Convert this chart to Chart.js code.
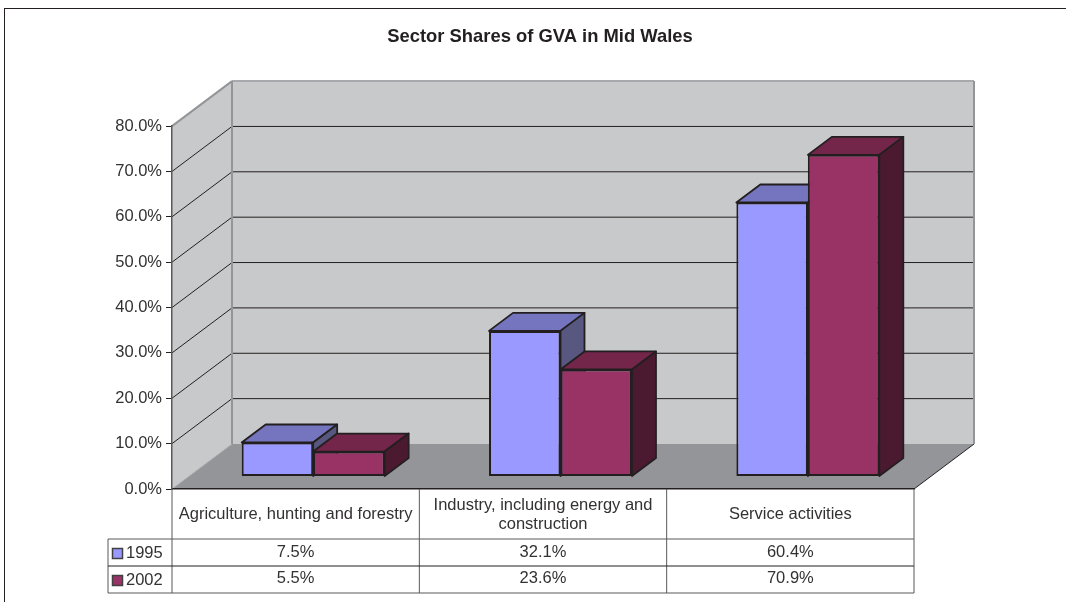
<!DOCTYPE html>
<html>
<head>
<meta charset="utf-8">
<title>Sector Shares of GVA in Mid Wales</title>
<script src="https://cdn.jsdelivr.net/npm/chart.js@4"></script>
<style>
  html, body { margin: 0; padding: 0; background: #fff; overflow: hidden; }
  #frame { position: absolute; left: 4px; top: 8px; width: 1062px; height: 594px; border-top: 1px solid #231f20; border-left: 1px solid #231f20; box-sizing: border-box; }
  canvas { display: block; position: absolute; left: 0; top: 0; }
</style>
</head>
<body>
<div id="frame"></div>
<canvas id="chart" width="1066" height="602"></canvas>
<script>
const categories = [
  'Agriculture, hunting and forestry',
  ['Industry, including energy and', 'construction'],
  'Service activities'
];
const values1995 = [7.5, 32.1, 60.4];
const values2002 = [5.5, 23.6, 70.9];
const seriesNames = ['1995', '2002'];

const font = '"Liberation Sans", Arial, sans-serif';
const ink = '#231f20';
const textInk = '#333132';

// decalage du mur du fond et des barres
const wallDepth = { x: 60, y: -45 };
const barPlane = { x: 17.5, y: -12.5 };
const barDepth = { x: 24, y: -18 };

const faces = [
  { top: '#7575bf', side: '#575780' },
  { top: '#732649', side: '#4c1a30' }
];

function poly(ctx, pts, fill, stroke, width) {
  ctx.beginPath();
  pts.forEach((p, i) => i ? ctx.lineTo(p[0], p[1]) : ctx.moveTo(p[0], p[1]));
  ctx.closePath();
  if (fill) { ctx.fillStyle = fill; ctx.fill(); }
  if (stroke) { ctx.strokeStyle = stroke; ctx.lineWidth = width; ctx.stroke(); }
}

function line(ctx, x1, y1, x2, y2, color, width) {
  ctx.beginPath();
  ctx.moveTo(x1, y1);
  ctx.lineTo(x2, y2);
  ctx.strokeStyle = color;
  ctx.lineWidth = width;
  ctx.stroke();
}

const walls3d = {
  id: 'walls3d',
  afterLayout(chart) {
    // le titre est centre sur le cadre, pas sur la zone du graphique
    chart.titleBlock.left = 0;
    chart.titleBlock.right = 1080;
  },
  beforeDraw(chart) {
    const { ctx, chartArea: a, scales: { y } } = chart;
    const dx = wallDepth.x, dy = wallDepth.y;
    ctx.save();
    // sol
    poly(ctx, [[a.left, a.bottom], [a.left + dx, a.bottom + dy], [a.right + dx, a.bottom + dy], [a.right, a.bottom]], '#949598');
    line(ctx, a.right, a.bottom, a.right + dx, a.bottom + dy, ink, 1);
    // mur gauche et mur du fond
    poly(ctx, [[a.left, a.top], [a.left + dx, a.top + dy], [a.left + dx, a.bottom + dy], [a.left, a.bottom]], '#c8c9cb');
    poly(ctx, [[a.left + dx, a.top + dy], [a.right + dx, a.top + dy], [a.right + dx, a.bottom + dy], [a.left + dx, a.bottom + dy]], '#c8c9cb');
    // lignes de grille
    y.ticks.forEach(t => {
      const py = y.getPixelForValue(t.value);
      const top = t.value === y.max;
      const c = top ? '#6d6e71' : ink;
      if (t.value > 0) {
        line(ctx, a.left + dx, py + dy, a.right + dx, py + dy, c, top ? 1.5 : 1);
        if (!top) line(ctx, a.left, py, a.left + dx, py + dy, ink, 1);
      }
    });
    // aretes
    line(ctx, a.left, a.top, a.left + dx, a.top + dy, '#939598', 2);
    line(ctx, a.left + dx, a.top + dy, a.right + dx, a.top + dy, '#a7a9ac', 2);
    line(ctx, a.left + dx, a.top + dy, a.left + dx, a.bottom + dy, '#939598', 2);
    line(ctx, a.right + dx, a.top + dy, a.right + dx, a.bottom + dy, '#939598', 2);
    line(ctx, a.left, a.bottom, a.left + dx, a.bottom + dy, '#a7a9ac', 1);
    ctx.restore();
  },
  beforeDatasetsDraw(chart) {
    // Chart.js dessine la derniere serie en premier : ici 2002 doit passer devant 1995
    const { ctx } = chart;
    const dx = barDepth.x, dy = barDepth.y;
    [0, 1].forEach(index => {
      const meta = chart.getDatasetMeta(index);
      ctx.save();
      ctx.translate(barPlane.x, barPlane.y);
      meta.data.forEach(bar => {
        const { x, y, base, width } = bar.getProps(['x', 'y', 'base', 'width'], true);
        const l = x - width / 2, r = x + width / 2;
        ctx.lineJoin = 'round';
        poly(ctx, [[l, y], [l + dx, y + dy], [r + dx, y + dy], [r, y]], faces[index].top, ink, 1.8);
        poly(ctx, [[r, y], [r + dx, y + dy], [r + dx, base + dy], [r, base]], faces[index].side, ink, 1.8);
      });
      meta.controller.draw();
      ctx.restore();
    });
    return false;
  }
};

const dataTable = {
  id: 'dataTable',
  afterDraw(chart) {
    const { ctx, chartArea: a, scales: { x } } = chart;
    const rowLines = [539, 566, 593];
    const valueY = [552, 578];
    const keyLeft = 108;
    const colW = (a.right - a.left) / categories.length;
    ctx.save();
    // colonnes
    for (let i = 0; i <= categories.length; i++) {
      const px = a.left + i * colW;
      line(ctx, px, a.bottom, px, rowLines[2], '#58595b', 1);
    }
    line(ctx, keyLeft, rowLines[0], keyLeft, rowLines[2], '#58595b', 1);
    // lignes
    line(ctx, keyLeft, rowLines[0], a.right, rowLines[0], '#58595b', 1);
    line(ctx, keyLeft, rowLines[1], a.right, rowLines[1], ink, 1);
    line(ctx, keyLeft, rowLines[2], a.right, rowLines[2], '#58595b', 1);

    ctx.font = '16.5px ' + font;
    ctx.textBaseline = 'middle';
    [values1995, values2002].forEach((vals, r) => {
      ctx.fillStyle = textInk;
      ctx.textAlign = 'center';
      vals.forEach((v, i) => ctx.fillText(v.toFixed(1) + '%', x.getPixelForValue(i), valueY[r]));
      // cle de legende
      const keyTop = rowLines[r] + 9.5;
      ctx.fillStyle = chart.data.datasets[r].backgroundColor;
      ctx.fillRect(112.5, keyTop, 10, 10);
      ctx.strokeStyle = '#414042';
      ctx.lineWidth = 1.5;
      ctx.strokeRect(112.5, keyTop, 10, 10);
      ctx.fillStyle = textInk;
      ctx.textAlign = 'left';
      ctx.fillText(seriesNames[r], 126, rowLines[r] + 14);
    });
    ctx.restore();
  }
};

new Chart(document.getElementById('chart'), {
  type: 'bar',
  data: {
    labels: categories,
    datasets: [
      { label: seriesNames[0], data: values1995, backgroundColor: '#9999ff' },
      { label: seriesNames[1], data: values2002, backgroundColor: '#993366' }
    ]
  },
  options: {
    responsive: false,
    animation: false,
    layout: { padding: { left: 0, right: 152, top: 26, bottom: 0 } },
    datasets: {
      bar: {
        barPercentage: 1,
        categoryPercentage: 0.578,
        borderColor: ink,
        borderWidth: 2,
        borderSkipped: false
      }
    },
    plugins: {
      legend: { display: false },
      tooltip: { enabled: false },
      title: {
        display: true,
        text: 'Sector Shares of GVA in Mid Wales',
        color: ink,
        font: { family: font, size: 18.4, weight: 'bold', lineHeight: 1.2 },
        padding: { top: 0, bottom: 78 }
      }
    },
    scales: {
      x: {
        grid: { display: false, drawTicks: false },
        border: { display: true, color: ink, width: 1.5 },
        ticks: {
          color: textInk,
          font: { family: font, size: 16.5, lineHeight: 1.2 },
          autoSkip: false,
          maxRotation: 0,
          crossAlign: 'center',
          padding: 16
        },
        afterFit(scale) { scale.height = 113; }
      },
      y: {
        min: 0,
        max: 80,
        grid: { drawOnChartArea: false, drawTicks: true, tickLength: 6, color: ink },
        border: { display: true, color: '#58595b', width: 1.5 },
        ticks: {
          stepSize: 10,
          color: textInk,
          padding: 4,
          font: { family: font, size: 16.5 },
          callback: v => v.toFixed(1) + '%'
        },
        afterFit(scale) { scale.width = 172; }
      }
    }
  },
  plugins: [walls3d, dataTable]
});
</script>
</body>
</html>
